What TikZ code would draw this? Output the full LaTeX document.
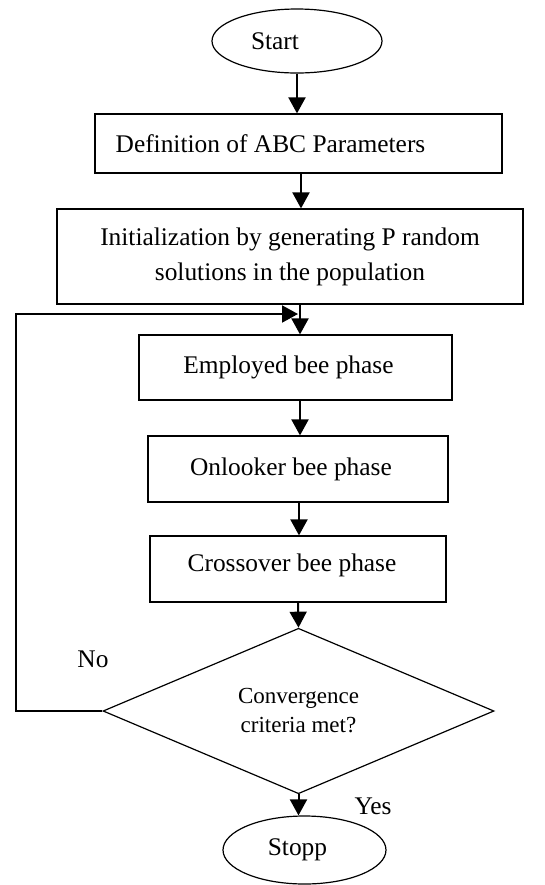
\documentclass[tikz,border=0pt]{standalone}
\usepackage{fontspec}
\setmainfont{Liberation Serif}
\usetikzlibrary{shapes.geometric, arrows.meta}

\tikzset{
  block/.style={draw, line width=0.6pt, rectangle, inner sep=2pt, align=center},
  term/.style={draw, line width=0.6pt, ellipse, inner sep=1pt},
  decide/.style={draw, line width=0.6pt, diamond, inner sep=0pt, align=center},
  arr/.style={line width=1pt, -{Triangle[length=8pt,width=8.5pt]}}
}

\begin{document}
\begin{tikzpicture}[x=0.5pt,y=-0.5pt,font=\fontsize{12.7}{17.5}\selectfont]
\useasboundingbox (0,0) rectangle (545,885);

\node[term, minimum width=85pt, minimum height=32pt] (start) at (297,41) {Start\hspace*{22pt}};
\node[block, minimum width=203.5pt, minimum height=29.5pt] (defn) at (298.5,143.5) {Definition of ABC Parameters\hspace*{28pt}};
\node[block, minimum width=233pt, minimum height=47.5pt] (init) at (290,256.5) {Initialization by generating P random\\solutions in the population};
\node[block, minimum width=156.5pt, minimum height=32.5pt] (employed) at (295.5,367.5) {Employed bee phase\hspace*{7pt}};
\node[block, minimum width=150pt, minimum height=33pt] (onlooker) at (298,469) {Onlooker bee phase\hspace*{7pt}};
\node[block, minimum width=148pt, minimum height=33pt] (cross) at (298,569) {Crossover bee phase\hspace*{6pt}\\[-11.5pt]};
\node[decide, minimum width=195.5pt, minimum height=72pt, font=\fontsize{11.5}{14.5}\selectfont] (check) at (298.5,711) {Convergence\\criteria met?};
\node[term, minimum width=81.5pt, minimum height=34pt] (stopp) at (304.5,850) {Stopp\hspace*{7pt}};

\coordinate (corner) at (16,314);
\coordinate (back) at (298,314);

\draw[arr] (start.south) -- (start.south |- defn.north);
\draw[arr] (defn.south -| 301,0) -- (init.north -| 301,0);
\draw[arr] (init.south -| 300,0) -- (employed.north -| 300,0);
\draw[arr] (employed.south -| 300,0) -- (onlooker.north -| 300,0);
\draw[arr] (onlooker.south -| 299,0) -- (cross.north -| 299,0);
\draw[arr] (cross.south) -- (check.north);
\draw[arr] (check.south) -- (check.south |- stopp.north);
\draw[arr] (check.west) -| (corner) -- (back);

\node (no) at (93,659) {No};
\node (yes) at (373,806) {Yes};
\end{tikzpicture}
\end{document}
